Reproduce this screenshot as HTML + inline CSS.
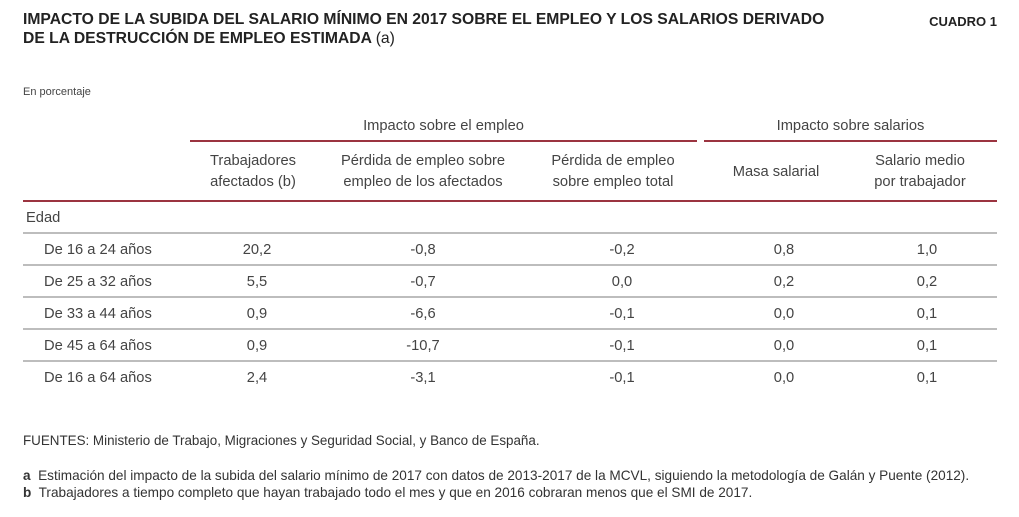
<!DOCTYPE html>
<html><head><meta charset="utf-8"><style>
body{margin:0;width:1019px;height:517px;background:#fff;font-family:"Liberation Sans",sans-serif;color:#333;position:relative;overflow:hidden}
.a{position:absolute;white-space:nowrap}
.t{font-weight:bold;font-size:15.7px;color:#222;left:23px}
.h{font-size:14.7px;color:#444;text-align:center;line-height:21px}
.c{font-size:14.7px;color:#444}
.ln{position:absolute;height:2px}
.r{background:#9b3440}.g{background:#bdbdbd}
</style></head><body>
<div class="a t" style="top:11px">IMPACTO DE LA SUBIDA DEL SALARIO MÍNIMO EN 2017 SOBRE EL EMPLEO Y LOS SALARIOS DERIVADO</div>
<div class="a t" style="top:30px">DE LA DESTRUCCIÓN DE EMPLEO ESTIMADA <span style="font-weight:normal">(a)</span></div>
<div class="a" style="top:14px;right:22px;font-weight:bold;font-size:13px;color:#222">CUADRO 1</div>
<div class="a" style="top:86px;left:23px;font-size:11px;color:#444">En porcentaje</div>

<div class="a h" style="top:116px;left:190px;width:507px">Impacto sobre el empleo</div>
<div class="a h" style="top:116px;left:704px;width:293px">Impacto sobre salarios</div>
<div class="ln r" style="top:140px;left:190px;width:507px"></div>
<div class="ln r" style="top:140px;left:704px;width:293px"></div>

<div class="a h" style="top:151px;left:193px;width:120px">Trabajadores<br>afectados (b)</div>
<div class="a h" style="top:151px;left:323px;width:200px">Pérdida de empleo sobre<br>empleo de los afectados</div>
<div class="a h" style="top:151px;left:533px;width:160px">Pérdida de empleo<br>sobre empleo total</div>
<div class="a h" style="top:162px;left:711px;width:130px">Masa salarial</div>
<div class="a h" style="top:151px;left:855px;width:130px">Salario medio<br>por trabajador</div>
<div class="ln r" style="top:200px;left:23px;width:974px"></div>
<div class="a c" style="top:210px;left:26px">Edad</div>
<div class="ln g" style="top:232px;left:23px;width:974px"></div>
<div id="rows"></div>

<div class="a" style="top:433px;left:23px;font-size:13.4px;color:#333">FUENTES: Ministerio de Trabajo, Migraciones y Seguridad Social, y Banco de España.</div>
<div class="a" style="top:468px;left:23px;font-size:13.6px;color:#333"><b>a</b>&nbsp; Estimación del impacto de la subida del salario mínimo de 2017 con datos de 2013-2017 de la MCVL, siguiendo la metodología de Galán y Puente (2012).</div>
<div class="a" style="top:485px;left:23px;font-size:13.6px;color:#333"><b>b</b>&nbsp; Trabajadores a tiempo completo que hayan trabajado todo el mes y que en 2016 cobraran menos que el SMI de 2017.</div>
<script>
const rowLabels=["De 16 a 24 años","De 25 a 32 años","De 33 a 44 años","De 45 a 64 años","De 16 a 64 años"];
const affected=["20,2","5,5","0,9","0,9","2,4"];
const lossAffected=["-0,8","-0,7","-6,6","-10,7","-3,1"];
const lossTotal=["-0,2","0,0","-0,1","-0,1","-0,1"];
const wageBill=["0,8","0,2","0,0","0,0","0,0"];
const avgWage=["1,0","0,2","0,1","0,1","0,1"];
const cols=[affected,lossAffected,lossTotal,wageBill,avgWage];
const colNames=['affected','loss-affected','loss-total','wage-bill','avg-wage'];
const centers=[257,423,622,784,927];
const host=document.getElementById('rows');
rowLabels.forEach((lab,i)=>{
  const y=242+i*32;
  const l=document.createElement('div');
  l.className='a c';l.style.top=y+'px';l.style.left='44px';l.textContent=lab;
  
  
  host.appendChild(l);
  cols.forEach((arr,j)=>{
    const d=document.createElement('div');
    d.className='a c';d.style.top=y+'px';d.style.left=(centers[j]-40)+'px';d.style.width='80px';d.style.textAlign='center';
    d.textContent=arr[i];
    
    
    host.appendChild(d);
  });
  if(i<rowLabels.length-1){
    const g=document.createElement('div');
    g.className='ln g';g.style.top=(y+22)+'px';g.style.left='23px';g.style.width='974px';
    
    
    host.appendChild(g);
  }
});
</script>
</body></html>
